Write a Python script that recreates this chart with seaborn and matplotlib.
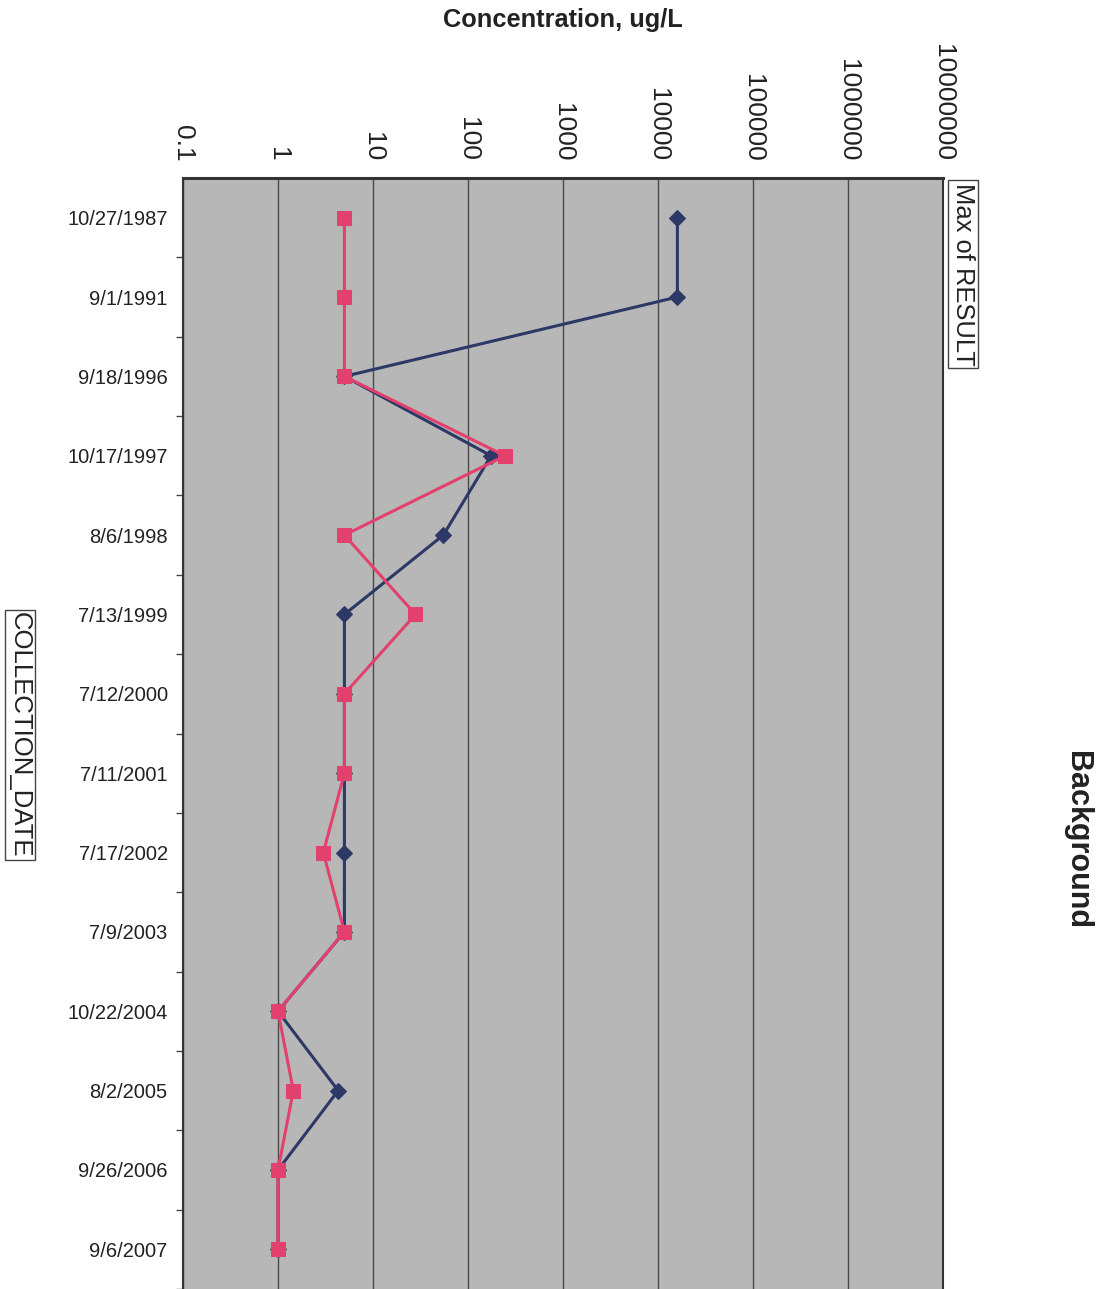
import numpy as np
import pandas as pd
import matplotlib
matplotlib.use("Agg")
import matplotlib.pyplot as plt
import seaborn as sns

# === Chart data ===
dates = ["10/27/1987", "9/1/1991", "9/18/1996", "10/17/1997", "8/6/1998",
         "7/13/1999", "7/12/2000", "7/11/2001", "7/17/2002", "7/9/2003",
         "10/22/2004", "8/2/2005", "9/26/2006", "9/6/2007"]
result_blue = [16000, 16000, 5, 175, 55, 5, 5, 5, 5, 5, 1, 4.3, 1, 1]
result_pink = [5, 5, 5, 245, 5, 28, 5, 5, 3, 5, 1, 1.45, 1, 1]
conc_ticks = [0.1, 1, 10, 100, 1000, 10000, 100000, 1000000, 10000000]
conc_labels = ["0.1", "1", "10", "100", "1000", "10000", "100000", "1000000", "10000000"]

df = pd.DataFrame({"pos": np.arange(len(dates)),
                   "date": dates,
                   "blue": result_blue,
                   "pink": result_pink})

# === Style ===
sns.set_style("white")
plt.rcParams['font.family'] = ['Liberation Sans', 'DejaVu Sans']

fig = plt.figure(figsize=(10.99, 12.89), dpi=100)
ax = fig.add_axes([183 / 1099, 0.0, (943 - 183) / 1099, 1 - 178 / 1289])
ax.set_facecolor("#b7b7b7")

sns.lineplot(data=df, x="blue", y="pos", orient="y", sort=False, estimator=None,
             color="#2c3866", linewidth=2.2, marker="D", markersize=8,
             markeredgecolor="#2c3866", ax=ax)
sns.lineplot(data=df, x="pink", y="pos", orient="y", sort=False, estimator=None,
             color="#e2416d", linewidth=2.2, marker="s", markersize=10,
             markeredgecolor="#e2416d", ax=ax)

# === Axes: log concentration on top, dates down the side ===
ax.set_xscale("log")
ax.set_xlim(0.1, 10000000)
ax.set_ylim(len(dates) - 0.5, -0.5)
ax.xaxis.tick_top()
ax.set_xticks(conc_ticks)
ax.set_xticklabels(conc_labels, rotation=270, fontsize=19, color="#222222")
ax.xaxis.set_minor_locator(matplotlib.ticker.NullLocator())
ax.tick_params(axis="x", which="major", length=0, pad=12)

ax.set_yticks(df["pos"])
ax.set_yticklabels(dates, fontsize=14.5, color="#222222")
ax.set_yticks(np.arange(len(dates)) + 0.5, minor=True)
ax.tick_params(axis="y", which="major", length=0, pad=11)
ax.tick_params(axis="y", which="minor", left=True, length=5, width=1, color="#444444")

ax.grid(True, axis="x", which="major", color="#4a4a4a", linewidth=1)
ax.grid(False, axis="y")
ax.set_xlabel("")
ax.set_ylabel("")

for side in ["top", "left", "right"]:
    ax.spines[side].set_visible(True)
    ax.spines[side].set_color("#333333")
ax.spines["top"].set_linewidth(2.2)
ax.spines["left"].set_linewidth(1.5)
ax.spines["right"].set_linewidth(1.5)
ax.spines["bottom"].set_visible(False)

# === Titles and boxed labels ===
fig.text(563 / 1099, 1 - 20 / 1289, "Concentration, ug/L", ha="center", va="center",
         fontsize=18.3, fontweight="bold", color="#222222")
fig.text(1077 / 1099, 1 - 840 / 1289, "Background", ha="center", va="center",
         rotation=270, fontsize=22, fontweight="bold", color="#222222")
box = dict(boxstyle="square,pad=0.1", facecolor="white", edgecolor="#444444", linewidth=1)
fig.text(963 / 1099, 1 - 274 / 1289, "Max of RESULT", ha="center", va="center",
         rotation=270, fontsize=18.4, color="#222222", bbox=box)
fig.text(20 / 1099, 1 - 735 / 1289, "COLLECTION_DATE", ha="center", va="center",
         rotation=270, fontsize=18.5, color="#222222", bbox=box)

fig.savefig("out.png", dpi=100, facecolor="white")
